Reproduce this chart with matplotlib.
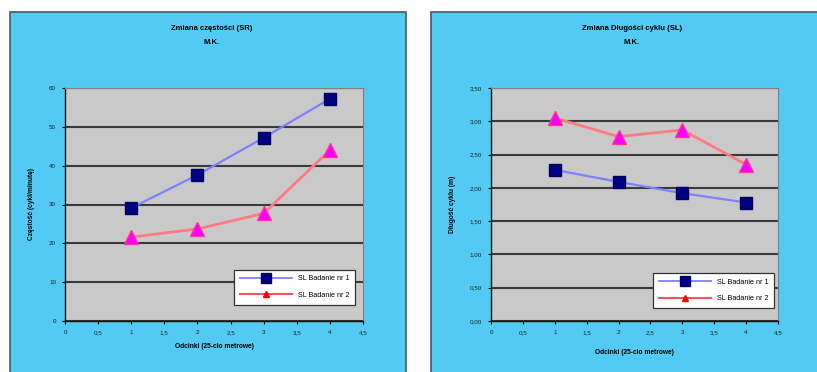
import matplotlib
matplotlib.use("Agg")
import matplotlib.pyplot as plt
from matplotlib.patches import Rectangle
from matplotlib.lines import Line2D

plt.rcParams['font.family'] = ['Liberation Sans', 'DejaVu Sans']

x_vals = [1, 2, 3, 4]
sr_badanie1 = [29.1, 37.6, 47.2, 57.2]
sr_badanie2 = [21.6, 23.7, 27.7, 44.0]
sl_badanie1 = [2.27, 2.09, 1.92, 1.78]
sl_badanie2 = [3.05, 2.77, 2.87, 2.35]
series_labels = ["SL Badanie nr 1", "SL Badanie nr 2"]
x_ticks = [0, 0.5, 1, 1.5, 2, 2.5, 3, 3.5, 4, 4.5]
x_tick_labels = ["0", "0,5", "1", "1,5", "2", "2,5", "3", "3,5", "4", "4,5"]
sr_ticks = [0, 10, 20, 30, 40, 50, 60]
sl_ticks = [0, 0.5, 1.0, 1.5, 2.0, 2.5, 3.0, 3.5]
sl_tick_labels = ["0,00", "0,50", "1,00", "1,50", "2,00", "2,50", "3,00", "3,50"]

W, H = 817, 372
fig = plt.figure(figsize=(W / 100, H / 100), dpi=100)
fig.patch.set_facecolor('white')

PANEL = '#52CAF3'
# panel backgrounds
for (x0, x1) in [(10, 406), (431, 830)]:
    fig.patches.append(Rectangle((x0 / W, -0.05), (x1 - x0) / W, (H - 12) / H + 0.05,
                                 transform=fig.transFigure, facecolor=PANEL,
                                 edgecolor='#4A5A66', linewidth=1.2, zorder=-10))

def px_ax(l, r, t, b):
    ax = fig.add_axes([l / W, 1 - b / H, (r - l) / W, (b - t) / H])
    ax.set_zorder(5)
    return ax

def style(ax, yticks, ylabels, ymax):
    ax.set_facecolor('#C9C9C9')
    ax.set_xlim(0, 4.5)
    ax.set_ylim(0, ymax)
    ax.set_xticks(x_ticks)
    ax.set_xticklabels(x_tick_labels, fontsize=4.5, color='#222222')
    ax.set_yticks(yticks)
    ax.set_yticklabels(ylabels, fontsize=4.5, color='#222222')
    ax.tick_params(axis='both', length=2.5, width=0.8, direction='out', pad=4)
    ax.grid(axis='y', color='#3A3A3A', linewidth=1.5)
    ax.set_axisbelow(True)
    for s in ['top', 'right']:
        ax.spines[s].set_color('#808080')
        ax.spines[s].set_linewidth(0.8)
    for s in ['left', 'bottom']:
        ax.spines[s].set_color('#111111')
        ax.spines[s].set_linewidth(1.0)

def plot_series(ax, y1, y2, anchor):
    ax.plot(x_vals, y1, color='#8080FF', linewidth=1.6, marker='s', markersize=8,
            markerfacecolor='#000080', markeredgecolor='#000060', zorder=3)
    ax.plot(x_vals, y2, color='#FF7A85', linewidth=2.0, marker='^', markersize=10,
            markerfacecolor='#FF00FF', markeredgecolor='#FF3399', zorder=3)
    handles = [Line2D([], [], color='#8080FF', linewidth=1.3, marker='s', markersize=7,
                      markerfacecolor='#000080', markeredgecolor='#000060'),
               Line2D([], [], color='#FF5060', linewidth=1.5, marker='^', markersize=4.5,
                      markerfacecolor='#FF0000', markeredgecolor='#FF0000')]
    leg = ax.legend(handles, series_labels, loc='lower right', fontsize=5.2,
                    frameon=True, fancybox=False, edgecolor='#333333', framealpha=1,
                    handlelength=7.2, borderpad=0.8, labelspacing=1.3,
                    bbox_to_anchor=anchor)
    leg.get_frame().set_linewidth(0.9)

# Left chart
ax1 = px_ax(65, 363, 88, 321)
style(ax1, sr_ticks, [str(t) for t in sr_ticks], 60)
plot_series(ax1, sr_badanie1, sr_badanie2, (0.985, 0.055))
ax1.set_xlabel("Odcinki (25-cio metrowe)", fontsize=4.8, fontweight='bold', labelpad=6)
ax1.set_ylabel("Częstość (cykl/minutę)", fontsize=4.8, fontweight='bold', labelpad=10)
fig.text(212 / W, 1 - 29 / H, "Zmiana częstości (SR)", ha='center', va='center',
         fontsize=5.5, fontweight='bold')
fig.text(212 / W, 1 - 43 / H, "M.K.", ha='center', va='center',
         fontsize=5.5, fontweight='bold')

# Right chart
ax2 = px_ax(491, 778, 88, 321)
style(ax2, sl_ticks, sl_tick_labels, 3.5)
plot_series(ax2, sl_badanie1, sl_badanie2, (1.0, 0.04))
ax2.set_xlabel("Odcinki (25-cio metrowe)", fontsize=4.8, fontweight='bold', labelpad=10)
ax2.set_ylabel("Długość cyklu (m)", fontsize=4.8, fontweight='bold', labelpad=10)
fig.text(632 / W, 1 - 29 / H, "Zmiana Długości cyklu (SL)", ha='center', va='center',
         fontsize=5.5, fontweight='bold')
fig.text(632 / W, 1 - 43 / H, "M.K.", ha='center', va='center',
         fontsize=5.5, fontweight='bold')

fig.savefig("out.png", dpi=100, facecolor=fig.get_facecolor())
